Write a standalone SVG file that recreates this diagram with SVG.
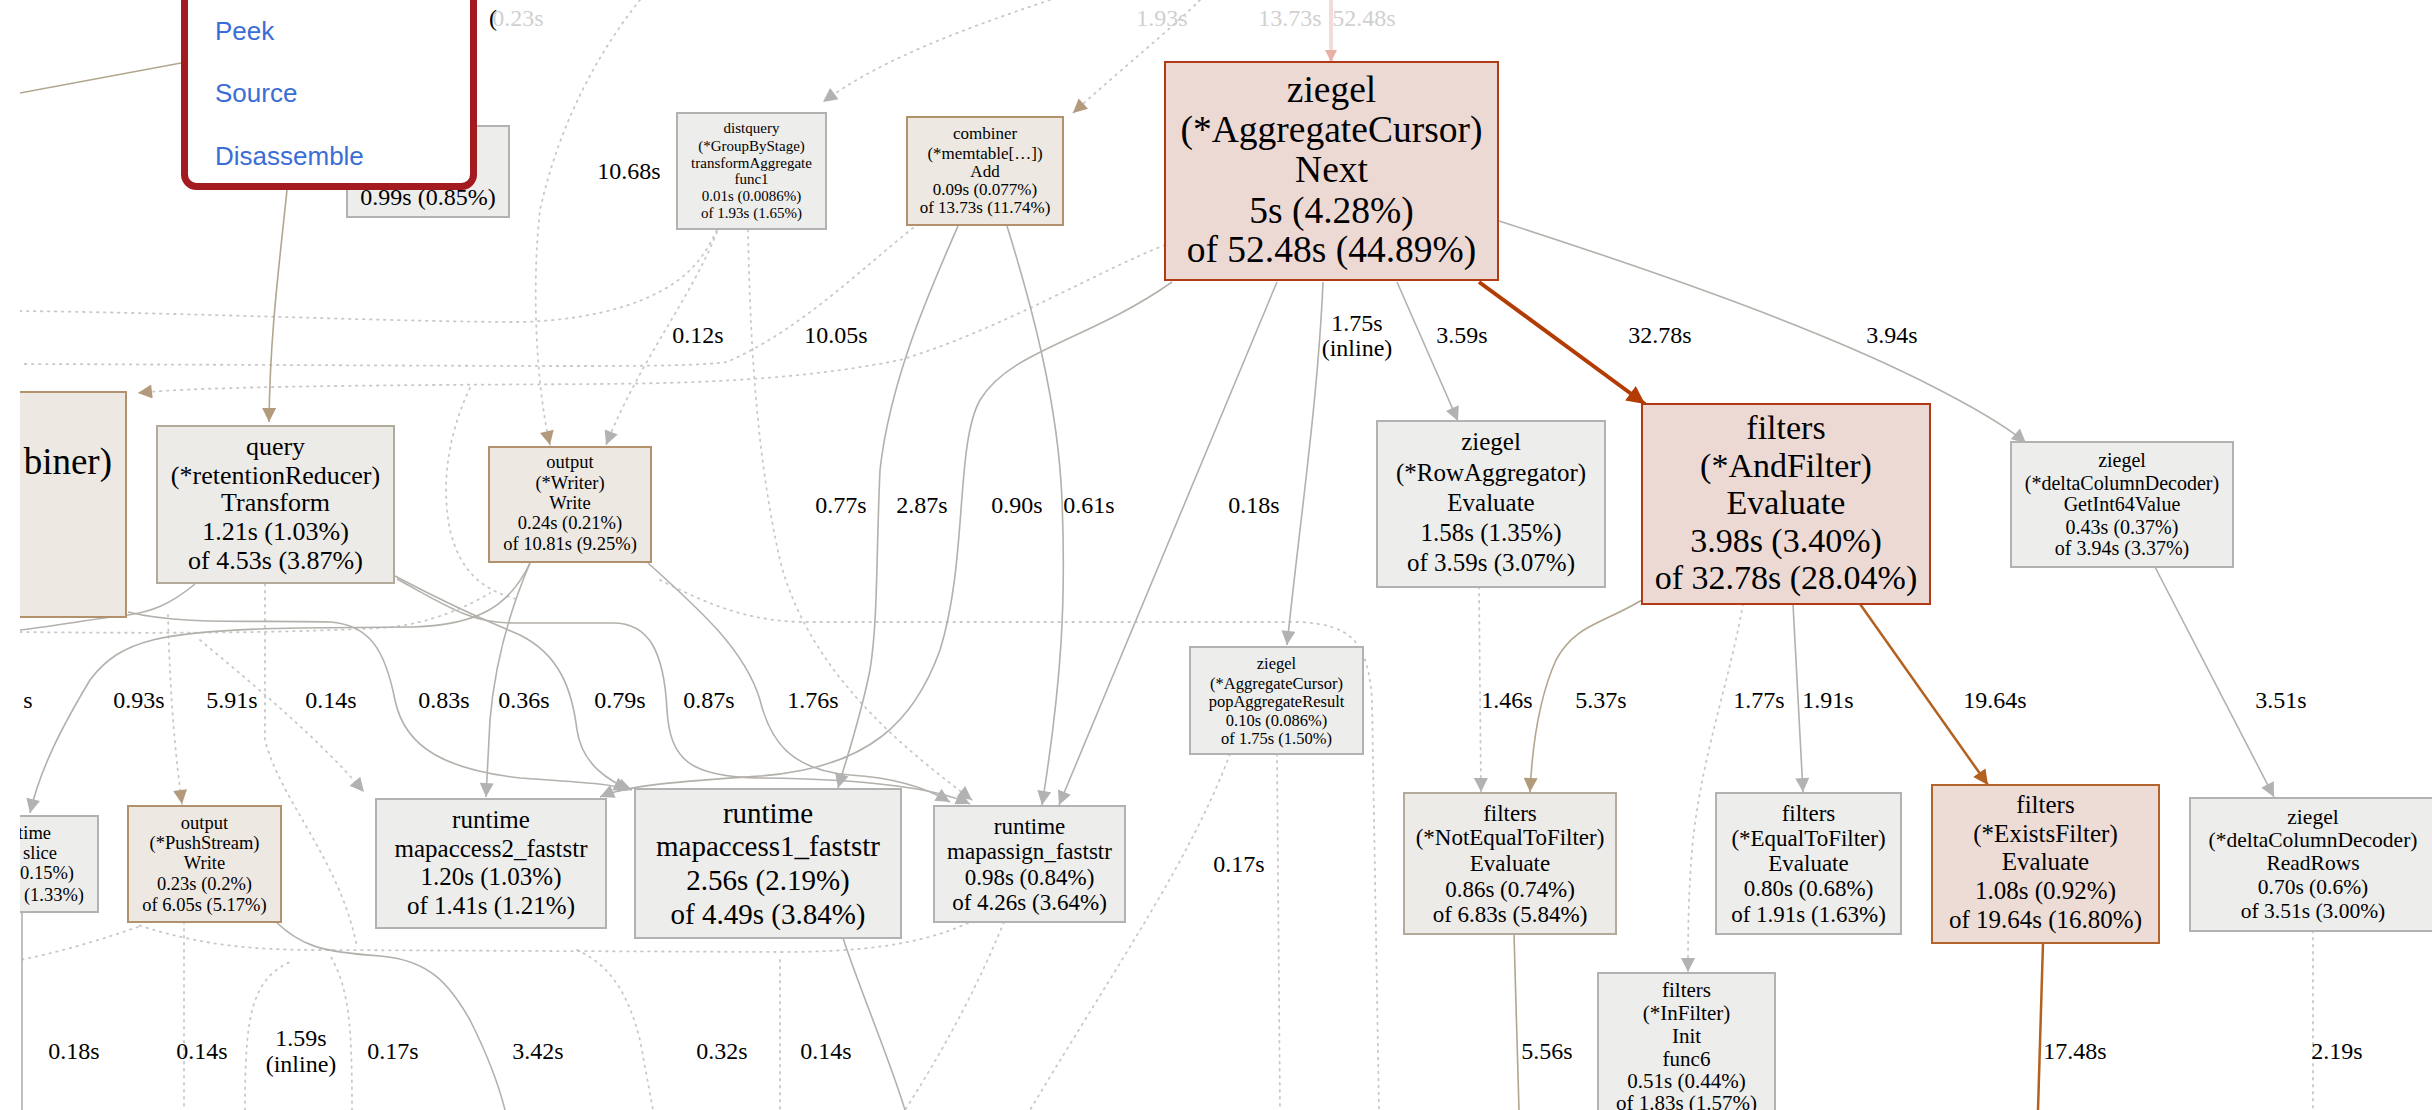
<svg xmlns="http://www.w3.org/2000/svg" width="2432" height="1110" viewBox="0 0 2432 1110">
<style>
text{font-family:"Liberation Serif","Times New Roman",Times,serif;fill:#000;text-anchor:middle}
.g{fill:#ededec;stroke:#b2b2b2;stroke-width:2}
.t{fill:#ede8e2;stroke:#b2926c;stroke-width:2}
.q{fill:#edebe8;stroke:#b2aa9b;stroke-width:2}
.r{fill:#edd9d4;stroke:#b23b16;stroke-width:2}
.o{fill:#eddcd5;stroke:#b2642c;stroke-width:2}
.e{fill:none;stroke:#b4b0ab;stroke-width:1.6}
.et{fill:none;stroke:#b2a68f;stroke-width:1.6}
.ed{fill:none;stroke:#c8c8c8;stroke-width:1.8;stroke-dasharray:1.5 5.5;stroke-linecap:round}
.er{fill:none;stroke:#b23c03;stroke-width:4}
.eo{fill:none;stroke:#b2611f;stroke-width:2.5}
.lb{font-size:24px}
.fd{fill:#d0d0d0}
.menu{font-family:"Liberation Sans",Arial,sans-serif;font-size:26px;fill:#3a6dd6;text-anchor:start}
</style>
<defs>
<clipPath id="clip"><rect x="20" y="0" width="2412" height="1110"/></clipPath>
<marker id="mg" viewBox="0 0 10 10" refX="10" refY="5" markerWidth="17" markerHeight="14" markerUnits="userSpaceOnUse" orient="auto"><path d="M0,0 L10,5 L0,10 z" fill="#b2b2b2"/></marker>
<marker id="mt" viewBox="0 0 10 10" refX="10" refY="5" markerWidth="17" markerHeight="14" markerUnits="userSpaceOnUse" orient="auto"><path d="M0,0 L10,5 L0,10 z" fill="#b29a7c"/></marker>
<marker id="mr" viewBox="0 0 10 10" refX="10" refY="5" markerWidth="24" markerHeight="18" markerUnits="userSpaceOnUse" orient="auto"><path d="M0,0 L10,5 L0,10 z" fill="#b23c03"/></marker>
<marker id="mo" viewBox="0 0 10 10" refX="10" refY="5" markerWidth="20" markerHeight="15" markerUnits="userSpaceOnUse" orient="auto"><path d="M0,0 L10,5 L0,10 z" fill="#b2611f"/></marker>
<marker id="mp" viewBox="0 0 10 10" refX="10" refY="5" markerWidth="16" markerHeight="12" markerUnits="userSpaceOnUse" orient="auto"><path d="M0,0 L10,5 L0,10 z" fill="#e8b0a4"/></marker>
</defs>
<rect x="0" y="0" width="2432" height="1110" fill="#fff"/>

<g id="connectors" clip-path="url(#clip)">
<path class="ed" d="M20,311 C200,313 400,322 520,322 C600,320 660,300 690,270 C705,255 712,240 717,230"/>
<path class="ed" d="M748,230 C750,330 755,450 780,560 C810,680 920,760 972,800" marker-end="url(#mg)"/>
<path class="ed" d="M717,232 C690,300 640,360 606,445" marker-end="url(#mg)"/>
<path class="ed" d="M640,0 C600,50 560,120 540,210 C532,280 535,380 550,445" marker-end="url(#mt)"/>
<path class="ed" d="M913,228 C860,270 800,330 727,362 C680,368 600,366 20,364"/>
<path class="ed" d="M1165,245 C1100,270 1000,330 900,360 C800,380 700,383 600,384 C400,385 200,386 138,393" marker-end="url(#mt)"/>
<path class="ed" d="M1200,0 C1170,30 1120,70 1073,113" marker-end="url(#mt)"/>
<path class="ed" d="M1050,0 C960,30 880,60 823,102" marker-end="url(#mg)"/>
<path class="ed" d="M1479,587 L1481,792" marker-end="url(#mg)"/>
<path class="ed" d="M1743,604 C1730,680 1700,760 1692,850 C1688,900 1688,940 1688,972" marker-end="url(#mg)"/>
<path class="ed" d="M2313,931 L2313,1110"/>
<path class="ed" d="M660,580 C700,600 740,620 800,622 L1300,622 C1350,625 1368,640 1372,700 L1379,1110"/>
<path class="ed" d="M1277,754 L1280,1110"/>
<path class="ed" d="M1230,754 C1190,860 1120,960 1030,1110"/>
<path class="ed" d="M1004,922 C980,980 950,1040 905,1110"/>
<path class="ed" d="M968,923 C920,945 860,952 780,952 L320,950 C250,950 200,945 138,925"/>
<path class="ed" d="M184,922 L184,1110"/>
<path class="ed" d="M245,1110 C245,1020 250,980 290,962"/>
<path class="ed" d="M352,1110 C352,1030 350,990 330,955"/>
<path class="ed" d="M577,950 C610,965 628,993 640,1040 L653,1110"/>
<path class="ed" d="M780,960 L780,1110"/>
<path class="ed" d="M265,584 L265,740 C280,800 340,860 357,947"/>
<path class="ed" d="M168,615 C170,700 176,760 182,804" marker-end="url(#mt)"/>
<path class="ed" d="M200,640 C260,690 320,740 364,792" marker-end="url(#mg)"/>
<path class="ed" d="M470,388 C450,430 440,480 450,530 C460,570 480,590 520,600"/>
<path class="ed" d="M20,632 C200,634 300,632 380,628 C430,625 470,605 490,593"/>
<path class="ed" d="M138,927 C100,940 60,952 20,960"/>
<path class="et" d="M20,93 L240,52"/>
<path class="et" d="M288,180 C280,260 270,330 269,422" marker-end="url(#mt)"/>
<path class="e" d="M958,226 C930,290 890,380 880,470 C876,560 878,620 870,670 C860,720 846,760 838,788" marker-end="url(#mg)"/>
<path class="e" d="M1007,226 C1030,300 1058,400 1062,500 C1066,600 1062,680 1042,805" marker-end="url(#mg)"/>
<path class="e" d="M1172,282 C1090,340 1010,350 980,400 C955,445 968,560 940,650 C915,720 870,768 760,776 C690,781 630,784 600,797" marker-end="url(#mg)"/>
<path class="e" d="M1277,282 L1059,805" marker-end="url(#mg)"/>
<path class="e" d="M1323,282 C1318,400 1300,520 1287,645" marker-end="url(#mg)"/>
<path class="e" d="M1397,282 L1458,421" marker-end="url(#mg)"/>
<path class="er" d="M1479,282 L1645,404" marker-end="url(#mr)"/>
<path class="e" d="M1496,220 C1620,260 1800,320 1920,380 C1970,405 2005,425 2026,443" marker-end="url(#mg)"/>
<path class="et" d="M1642,600 C1600,625 1575,625 1556,660 C1538,700 1532,750 1530,792" marker-end="url(#mt)"/>
<path class="e" d="M1793,604 L1803,792" marker-end="url(#mg)"/>
<path class="eo" d="M1860,604 L1988,785" marker-end="url(#mo)"/>
<path class="e" d="M2155,567 L2274,797" marker-end="url(#mg)"/>
<path class="et" d="M1514,934 L1519,1110"/>
<path class="eo" d="M2043,943 L2038,1110"/>
<path class="e" d="M843,938 C860,990 890,1060 905,1110"/>
<path class="e" d="M276,922 C300,945 320,952 380,956 C430,960 450,985 470,1020 C490,1060 500,1090 505,1110"/>
<path class="e" d="M22,912 L22,1110"/>
<path class="e" d="M395,576 C450,605 480,618 520,635 C560,655 572,690 577,730 C582,765 610,782 632,790" marker-end="url(#mg)"/>
<path class="e" d="M397,579 C445,605 470,623 513,623 L613,623 C648,623 664,650 667,710 C670,760 690,777 760,778 C850,779 930,785 970,804" marker-end="url(#mg)"/>
<path class="e" d="M530,563 C510,610 495,660 490,720 L486,797" marker-end="url(#mg)"/>
<path class="e" d="M530,563 C510,605 480,625 413,627 L300,628 C160,630 120,640 90,680 C60,730 40,770 30,813" marker-end="url(#mg)"/>
<path class="e" d="M648,563 C700,610 745,650 760,700 C770,740 790,770 850,775 C900,778 930,790 950,802" marker-end="url(#mg)"/>
<path class="e" d="M128,612 C180,625 250,620 330,622 C370,625 385,650 395,700 C405,750 450,770 520,778 C580,782 615,784 628,790" marker-end="url(#mg)"/>
<path class="e" d="M195,584 C170,605 150,612 128,615 C100,618 60,625 20,630"/>
<path d="M1331,0 L1331,62" fill="none" stroke="#f3dcd8" stroke-width="4" marker-end="url(#mp)"/>
<text class="lb fd" x="518" y="26">0.23s</text>
<text class="lb" x="493" y="26">(</text>
<text class="lb fd" x="1162" y="26">1.93s</text>
<text class="lb fd" x="1290" y="26">13.73s</text>
<text class="lb fd" x="1364" y="26">52.48s</text>
<text class="lb" x="629" y="179">10.68s</text>
<text class="lb" x="698" y="343">0.12s</text>
<text class="lb" x="836" y="343">10.05s</text>
<text class="lb" x="1357" y="331">1.75s</text>
<text class="lb" x="1357" y="356">(inline)</text>
<text class="lb" x="1462" y="343">3.59s</text>
<text class="lb" x="1660" y="343">32.78s</text>
<text class="lb" x="1892" y="343">3.94s</text>
<text class="lb" x="841" y="513">0.77s</text>
<text class="lb" x="922" y="513">2.87s</text>
<text class="lb" x="1017" y="513">0.90s</text>
<text class="lb" x="1089" y="513">0.61s</text>
<text class="lb" x="1254" y="513">0.18s</text>
<text class="lb" x="28" y="708">s</text>
<text class="lb" x="139" y="708">0.93s</text>
<text class="lb" x="232" y="708">5.91s</text>
<text class="lb" x="331" y="708">0.14s</text>
<text class="lb" x="444" y="708">0.83s</text>
<text class="lb" x="524" y="708">0.36s</text>
<text class="lb" x="620" y="708">0.79s</text>
<text class="lb" x="709" y="708">0.87s</text>
<text class="lb" x="813" y="708">1.76s</text>
<text class="lb" x="1507" y="708">1.46s</text>
<text class="lb" x="1601" y="708">5.37s</text>
<text class="lb" x="1759" y="708">1.77s</text>
<text class="lb" x="1828" y="708">1.91s</text>
<text class="lb" x="1995" y="708">19.64s</text>
<text class="lb" x="2281" y="708">3.51s</text>
<text class="lb" x="1239" y="872">0.17s</text>
<text class="lb" x="74" y="1059">0.18s</text>
<text class="lb" x="202" y="1059">0.14s</text>
<text class="lb" x="301" y="1046">1.59s</text>
<text class="lb" x="301" y="1072">(inline)</text>
<text class="lb" x="393" y="1059">0.17s</text>
<text class="lb" x="538" y="1059">3.42s</text>
<text class="lb" x="722" y="1059">0.32s</text>
<text class="lb" x="826" y="1059">0.14s</text>
<text class="lb" x="1547" y="1059">5.56s</text>
<text class="lb" x="2075" y="1059">17.48s</text>
<text class="lb" x="2337" y="1059">2.19s</text>
</g>

<g id="nodes" clip-path="url(#clip)">
<g id="n-combiner-left">
<rect class="t" x="-200" y="392" width="326" height="225"/>
<text x="112" y="474" font-size="37" style="text-anchor:end">biner)</text>
</g>
<g id="n-099">
<rect class="g" x="347" y="126" width="162" height="91"/>
<text x="428" y="205" font-size="24">0.99s (0.85%)</text>
</g>
<g id="n-distquery">
<rect class="g" x="677" y="113" width="149" height="116"/>
<text x="751.5" y="133" font-size="15">distquery</text>
<text x="751.5" y="151" font-size="15">(*GroupByStage)</text>
<text x="751.5" y="168" font-size="15">transformAggregate</text>
<text x="751.5" y="184" font-size="15">func1</text>
<text x="751.5" y="201" font-size="15">0.01s (0.0086%)</text>
<text x="751.5" y="218" font-size="15">of 1.93s (1.65%)</text>
</g>
<g id="n-combiner-add">
<rect class="t" x="907" y="117" width="156" height="108"/>
<text x="985" y="138.5" font-size="17">combiner</text>
<text x="985" y="158.5" font-size="17">(*memtable[…])</text>
<text x="985" y="176.5" font-size="17">Add</text>
<text x="985" y="194.5" font-size="17">0.09s (0.077%)</text>
<text x="985" y="212.5" font-size="17">of 13.73s (11.74%)</text>
</g>
<g id="n-aggcursor-next">
<rect class="r" x="1165" y="62" width="333" height="218"/>
<text x="1331.5" y="102" font-size="37.5">ziegel</text>
<text x="1331.5" y="142" font-size="37.5">(*AggregateCursor)</text>
<text x="1331.5" y="182" font-size="37.5">Next</text>
<text x="1331.5" y="223" font-size="37.5">5s (4.28%)</text>
<text x="1331.5" y="262" font-size="37.5">of 52.48s (44.89%)</text>
</g>
<g id="n-query">
<rect class="q" x="157" y="426" width="237" height="157"/>
<text x="275.5" y="455" font-size="26">query</text>
<text x="275.5" y="484" font-size="26">(*retentionReducer)</text>
<text x="275.5" y="511" font-size="26">Transform</text>
<text x="275.5" y="540" font-size="26">1.21s (1.03%)</text>
<text x="275.5" y="569" font-size="26">of 4.53s (3.87%)</text>
</g>
<g id="n-writer">
<rect class="t" x="489" y="447" width="162" height="115"/>
<text x="570" y="468" font-size="18.5">output</text>
<text x="570" y="489" font-size="18.5">(*Writer)</text>
<text x="570" y="509" font-size="18.5">Write</text>
<text x="570" y="529" font-size="18.5">0.24s (0.21%)</text>
<text x="570" y="550" font-size="18.5">of 10.81s (9.25%)</text>
</g>
<g id="n-growslice">
<rect class="g" x="-100" y="816" width="198" height="96"/>
<text x="51" y="839" font-size="18.5" style="text-anchor:end">time</text>
<text x="57" y="859" font-size="18.5" style="text-anchor:end">slice</text>
<text x="74" y="879" font-size="18.5" style="text-anchor:end">0.15%)</text>
<text x="84" y="901" font-size="18.5" style="text-anchor:end">(1.33%)</text>
</g>
<g id="n-pushstream">
<rect class="t" x="128" y="806" width="153" height="116"/>
<text x="204.5" y="829" font-size="18.5">output</text>
<text x="204.5" y="849" font-size="18.5">(*PushStream)</text>
<text x="204.5" y="869" font-size="18.5">Write</text>
<text x="204.5" y="890" font-size="18.5">0.23s (0.2%)</text>
<text x="204.5" y="911" font-size="18.5">of 6.05s (5.17%)</text>
</g>
<g id="n-mapaccess2">
<rect class="g" x="376" y="799" width="230" height="129"/>
<text x="491" y="828" font-size="25">runtime</text>
<text x="491" y="857" font-size="25">mapaccess2_faststr</text>
<text x="491" y="885" font-size="25">1.20s (1.03%)</text>
<text x="491" y="914" font-size="25">of 1.41s (1.21%)</text>
</g>
<g id="n-mapaccess1">
<rect class="g" x="635" y="789" width="266" height="149"/>
<text x="768" y="822.5" font-size="29">runtime</text>
<text x="768" y="855.5" font-size="29">mapaccess1_faststr</text>
<text x="768" y="889.5" font-size="29">2.56s (2.19%)</text>
<text x="768" y="923.5" font-size="29">of 4.49s (3.84%)</text>
</g>
<g id="n-mapassign">
<rect class="g" x="934" y="806" width="191" height="116"/>
<text x="1029.5" y="833.5" font-size="23">runtime</text>
<text x="1029.5" y="858.5" font-size="23">mapassign_faststr</text>
<text x="1029.5" y="884.5" font-size="23">0.98s (0.84%)</text>
<text x="1029.5" y="909.5" font-size="23">of 4.26s (3.64%)</text>
</g>
<g id="n-popaggregate">
<rect class="g" x="1190" y="647" width="173" height="107"/>
<text x="1276.5" y="668.5" font-size="16.5">ziegel</text>
<text x="1276.5" y="688.5" font-size="16.5">(*AggregateCursor)</text>
<text x="1276.5" y="706.5" font-size="16.5">popAggregateResult</text>
<text x="1276.5" y="725.5" font-size="16.5">0.10s (0.086%)</text>
<text x="1276.5" y="743.5" font-size="16.5">of 1.75s (1.50%)</text>
</g>
<g id="n-rowaggregator">
<rect class="g" x="1377" y="421" width="228" height="166"/>
<text x="1491" y="450" font-size="25">ziegel</text>
<text x="1491" y="481" font-size="25">(*RowAggregator)</text>
<text x="1491" y="511" font-size="25">Evaluate</text>
<text x="1491" y="541" font-size="25">1.58s (1.35%)</text>
<text x="1491" y="571" font-size="25">of 3.59s (3.07%)</text>
</g>
<g id="n-andfilter">
<rect class="r" x="1642" y="404" width="288" height="200"/>
<text x="1786" y="439" font-size="34">filters</text>
<text x="1786" y="477" font-size="34">(*AndFilter)</text>
<text x="1786" y="514" font-size="34">Evaluate</text>
<text x="1786" y="552" font-size="34">3.98s (3.40%)</text>
<text x="1786" y="589" font-size="34">of 32.78s (28.04%)</text>
</g>
<g id="n-getint64">
<rect class="g" x="2011" y="442" width="222" height="125"/>
<text x="2122" y="466.5" font-size="20">ziegel</text>
<text x="2122" y="489.5" font-size="20">(*deltaColumnDecoder)</text>
<text x="2122" y="510.5" font-size="20">GetInt64Value</text>
<text x="2122" y="533.5" font-size="20">0.43s (0.37%)</text>
<text x="2122" y="554.5" font-size="20">of 3.94s (3.37%)</text>
</g>
<g id="n-notequal">
<rect class="q" x="1404" y="793" width="212" height="141"/>
<text x="1510" y="820.5" font-size="23">filters</text>
<text x="1510" y="844.5" font-size="23">(*NotEqualToFilter)</text>
<text x="1510" y="870.5" font-size="23">Evaluate</text>
<text x="1510" y="896.5" font-size="23">0.86s (0.74%)</text>
<text x="1510" y="921.5" font-size="23">of 6.83s (5.84%)</text>
</g>
<g id="n-equal">
<rect class="g" x="1716" y="793" width="185" height="141"/>
<text x="1808.5" y="820.5" font-size="23">filters</text>
<text x="1808.5" y="845.5" font-size="23">(*EqualToFilter)</text>
<text x="1808.5" y="870.5" font-size="23">Evaluate</text>
<text x="1808.5" y="895.5" font-size="23">0.80s (0.68%)</text>
<text x="1808.5" y="921.5" font-size="23">of 1.91s (1.63%)</text>
</g>
<g id="n-exists">
<rect class="o" x="1932" y="785" width="227" height="158"/>
<text x="2045.5" y="813" font-size="25">filters</text>
<text x="2045.5" y="842" font-size="25">(*ExistsFilter)</text>
<text x="2045.5" y="870" font-size="25">Evaluate</text>
<text x="2045.5" y="899" font-size="25">1.08s (0.92%)</text>
<text x="2045.5" y="928" font-size="25">of 19.64s (16.80%)</text>
</g>
<g id="n-readrows">
<rect class="g" x="2190" y="798" width="246" height="133"/>
<text x="2313" y="824" font-size="21.5">ziegel</text>
<text x="2313" y="847" font-size="21.5">(*deltaColumnDecoder)</text>
<text x="2313" y="870" font-size="21.5">ReadRows</text>
<text x="2313" y="894" font-size="21.5">0.70s (0.6%)</text>
<text x="2313" y="918" font-size="21.5">of 3.51s (3.00%)</text>
</g>
<g id="n-infilter">
<rect class="g" x="1598" y="973" width="177" height="170"/>
<text x="1686.5" y="997" font-size="21">filters</text>
<text x="1686.5" y="1020" font-size="21">(*InFilter)</text>
<text x="1686.5" y="1043" font-size="21">Init</text>
<text x="1686.5" y="1066" font-size="21">func6</text>
<text x="1686.5" y="1088" font-size="21">0.51s (0.44%)</text>
<text x="1686.5" y="1110" font-size="21">of 1.83s (1.57%)</text>
</g>
</g>

<g id="menu">
<rect x="184.5" y="-20" width="289" height="206.5" rx="12" fill="#fff" stroke="#a31b1f" stroke-width="7"/>
<text class="menu" x="215" y="40">Peek</text>
<text class="menu" x="215" y="102">Source</text>
<text class="menu" x="215" y="165">Disassemble</text>
</g>
</svg>
